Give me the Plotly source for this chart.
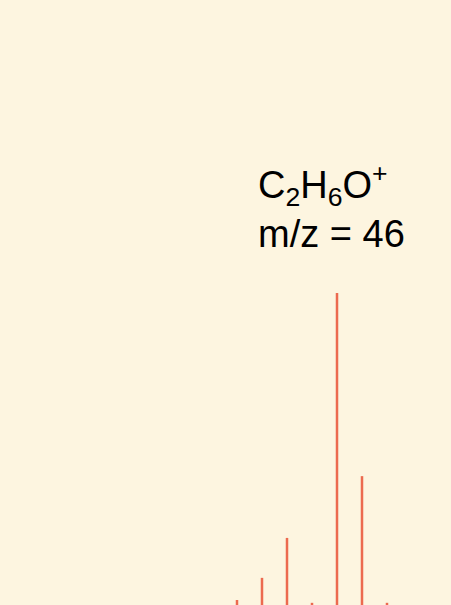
import plotly.graph_objects as go

mz = [42, 43, 44, 45, 46, 47, 48]
intensity = [1.6, 8.7, 21.5, 0.7, 100, 41.3, 0.7]
label_text = "C<sub>2</sub>H<sub>6</sub>O<sup>+</sup><br>m/z = 46"

fig = go.Figure()
fig.add_trace(go.Bar(x=mz, y=intensity, width=0.1,
                     marker=dict(color="#EC6A4F", line=dict(width=0))))
fig.update_layout(
    width=451, height=605,
    margin=dict(l=0, r=0, t=0, b=0),
    paper_bgcolor="#FDF5E0", plot_bgcolor="#FDF5E0",
    showlegend=False,
    xaxis=dict(range=[32.52, 50.56], visible=False),
    yaxis=dict(range=[0, 193.9], visible=False),
    annotations=[dict(text=label_text, xref="paper", yref="paper",
                      x=256/451, y=1 - 156/605, xanchor="left", yanchor="top",
                      align="left", showarrow=False,
                      font=dict(family="Liberation Sans, Arial", size=38, color="#000000"))],
)
fig.write_html("out.html", config={"displayModeBar": False},
               post_script="document.body.style.margin='0';document.body.style.overflow='hidden';")
